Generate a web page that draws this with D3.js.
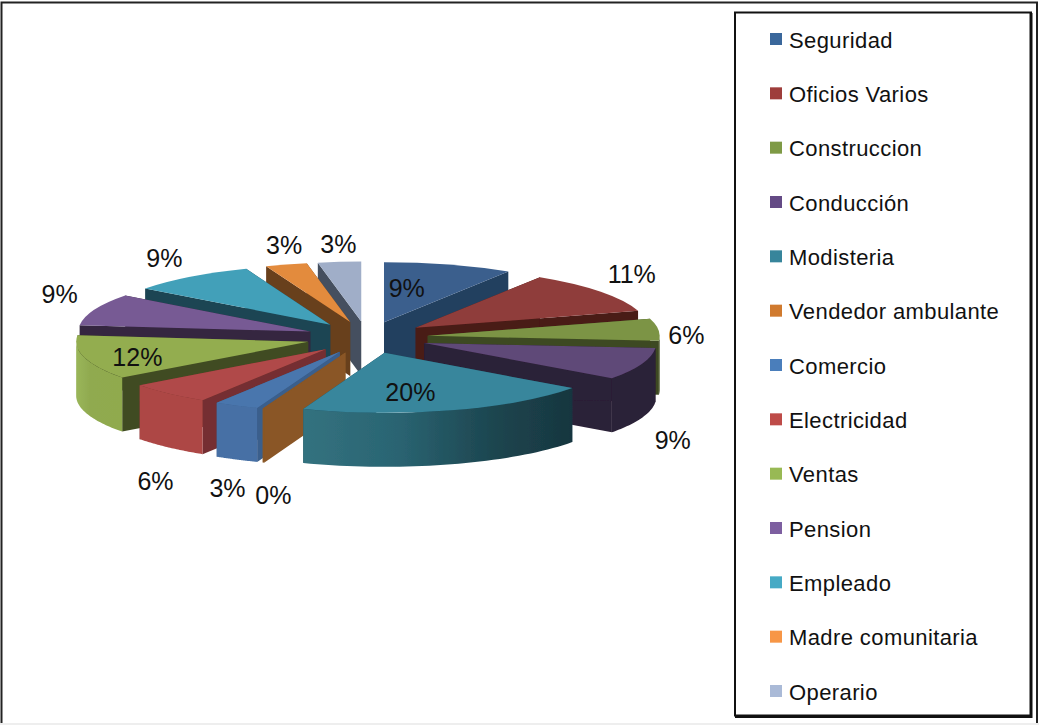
<!DOCTYPE html>
<html><head><meta charset="utf-8">
<script src="https://cdn.jsdelivr.net/npm/d3@7"></script>
<style>html,body{margin:0;padding:0;background:#fff}svg{display:block}text{font-family:"Liberation Sans",Arial,sans-serif;fill:#111}</style>
</head><body><svg id="c" width="1039" height="725"></svg>
<script>
const categories=["Seguridad","Oficios Varios","Construccion","Conducción","Modisteria","Vendedor ambulante","Comercio","Electricidad","Ventas","Pension","Empleado","Madre comunitaria","Operario"];
const values=[9,11.4,5.9,8.7,20.7,0.1,3.1,5.9,11.9,8.6,8.8,2.9,3];
const percentLabels=["9%","11%","6%","9%","20%","0%","3%","6%","12%","9%","9%","3%","3%"];
const legendColors=["#3a679b","#9e3d3b","#7e9a45","#644a85","#37859b","#d07a2e","#4a7ebb","#be4b48","#98b954","#7d5fa0","#46aac5","#f79646","#aabad7"];
const topColors=["#3b5f8d","#8f3d3a","#7b9445","#5f4878","#37869c","#8a5726","#4a76ad","#b04a48","#93ad50","#775a94","#42a0b9","#e38b3e","#a0aec8"];
const wallColors=["#24405f","#4a1a18","#3e4a20","#2c2037","#1c4552","#8a5726","#3a5e8c","#742f30","#414c22","#35263f","#1c4552","#683f1c","#45505f"];
const outerColors=["#24405f","#4a1a18","#3e4a20","#2c2037","url(#gMod)","#8a5726","#4670a5","#ad4745","url(#gVen)","#6a5085","#3a8ea5","#c97c35","#8f9cb4"];
const labelOffsets=[[-42,24],[31,-17],[28,6],[31,76],[-41,-18],[10,87],[-9,83],[-13,88],[53,0],[-35,-15],[-26,-19],[-2,-19],[-1,-18]];

const svg=d3.select("#c");
const cx=367,cy=337.5,rx=232,ry=60,depth=54,explodeX=61,explodeY=16;
const defs=svg.append("defs");
function grad(id,stops){
  const g=defs.append("linearGradient").attr("id",id).attr("x1",0).attr("x2",1).attr("y1",0).attr("y2",0);
  stops.forEach(s=>g.append("stop").attr("offset",s[0]).attr("stop-color",s[1]));
}
grad("gMod",[[0,"#33727f"],[0.35,"#2a6472"],[0.7,"#1d4650"],[1,"#17363f"]]);
grad("gVen",[[0,"#9ab65a"],[0.3,"#90aa4f"],[1,"#90aa4e"]]);
defs.append("filter").attr("id","soft").attr("x","-5%").attr("y","-5%").attr("width","110%").attr("height","110%")
  .append("feGaussianBlur").attr("stdDeviation",0.5);

// page frame
svg.append("rect").attr("x",0).attr("y",723).attr("width",1039).attr("height",2).attr("fill","#eeeeee");
svg.append("path").attr("d","M1.5,723V2.5H1037V723").attr("fill","none").attr("stroke","#222").attr("stroke-width",2);

const pie=d3.pie().sort(null).value(d=>d)(values);
const arc=d3.arc().innerRadius(0).outerRadius(rx);
const ratio=ry/rx;
const slices=pie.map((p,i)=>{
  const mid=(p.startAngle+p.endAngle)/2;
  return {p,i,mid,ax:cx+explodeX*Math.sin(mid),ay:cy-explodeY*Math.cos(mid)};
}).sort((a,b)=>a.ay-b.ay);

const rim=(s,t)=>[s.ax+rx*Math.sin(t),s.ay-ry*Math.cos(t)];
const line=d3.line();
const chart=svg.append("g").attr("filter","url(#soft)");
slices.forEach(s=>{
  const a0=s.p.startAngle,a1=s.p.endAngle;
  const g=chart.append("g");
  const wall=t=>{const [x,y]=rim(s,t);return [[s.ax,s.ay],[x,y],[x,y+depth],[s.ax,s.ay+depth]];};
  g.append("path").attr("d",line(wall(a1))+"Z").attr("fill",wallColors[s.i]);
  g.append("path").attr("d",line(wall(a0))+"Z").attr("fill",wallColors[s.i]);
  const lo=Math.max(a0,Math.PI/2),hi=Math.min(a1,Math.PI*1.5);
  if(hi>lo){
    const ts=d3.range(0,41).map(k=>lo+(hi-lo)*k/40);
    const pts=ts.map(t=>rim(s,t));
    const poly=pts.concat(pts.slice().reverse().map(q=>[q[0],q[1]+depth]));
    g.append("path").attr("d",line(poly)+"Z").attr("fill",outerColors[s.i]);
  }
  g.append("path").attr("d",arc(s.p)).attr("fill",topColors[s.i])
    .attr("transform",`translate(${s.ax},${s.ay}) scale(1,${ratio})`);
});

const labelPieces=pie.map((p,i)=>{
  const mid=(p.startAngle+p.endAngle)/2;
  return {t:percentLabels[i],x:cx+(explodeX+rx)*Math.sin(mid)+labelOffsets[i][0],y:cy-(explodeY+ry)*Math.cos(mid)+labelOffsets[i][1]};
});
svg.append("g").selectAll("text").data(labelPieces).join("text")
  .attr("x",d=>d.x).attr("y",d=>d.y).attr("dy","0.35em").attr("text-anchor","middle")
  .attr("font-size",25).text(d=>d.t);

const lg=svg.append("g");
lg.append("rect").attr("x",735).attr("y",12.5).attr("width",296).attr("height",703).attr("fill","#fff").attr("stroke","#111").attr("stroke-width",2);
lg.append("path").attr("d","M1031,13V716.5H735").attr("fill","none").attr("stroke","#111").attr("stroke-width",3);
const yL=d3.scalePoint().domain(categories).range([40,692]);
const rows=lg.selectAll("g.r").data(categories).join("g").attr("class","r").attr("transform",d=>`translate(0,${yL(d)})`);
rows.append("rect").attr("x",770).attr("y",-7).attr("width",12).attr("height",12).attr("fill",(d,i)=>legendColors[i]);
rows.append("text").attr("x",789).attr("dy","0.35em").attr("font-size",22).attr("letter-spacing",0.4).text(d=>d);
</script></body></html>
